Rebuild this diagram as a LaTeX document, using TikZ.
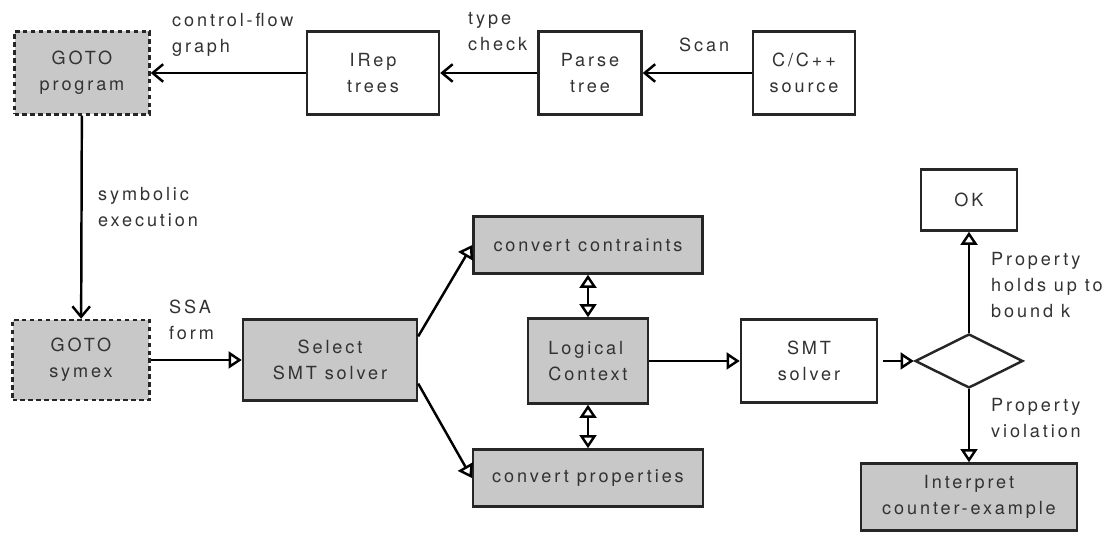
\documentclass[tikz,border=0pt]{standalone}
\usepackage{fontspec}
\usetikzlibrary{arrows.meta,shapes.geometric}
\newfontfamily\flowfont[LetterSpace=16]{TeX Gyre Heros}
\definecolor{boxgray}{RGB}{200,200,200}
\definecolor{inkgray}{RGB}{50,50,50}

\begin{document}
\begin{tikzpicture}[x=0.02cm, y=-0.02cm,
	font=\flowfont\fontsize{10.3}{14.7}\selectfont, text=inkgray,
	line width=1.4pt,
	block/.style={draw=black!85, align=center, inner sep=0pt},
	shaded/.style={block, fill=boxgray},
	virtual/.style={shaded, dash pattern=on 2.6pt off 1.9pt},
	lbl/.style={align=left, anchor=west, inner sep=0pt},
	flow/.style={-{Straight Barb[length=6pt,width=10pt]}},
	hollow/.style={-{Triangle[open,length=7.5pt,width=9.6pt]}},
	both/.style={{Triangle[open,length=7.5pt,width=9.6pt]}-{Triangle[open,length=7.5pt,width=9.6pt]}}]
\useasboundingbox (0,0) rectangle (1117,546);

% front end
	\node[virtual, minimum width=2.7cm, minimum height=1.66cm] (prog) at (82,73) {GOTO\\program};
	\node[block, minimum width=2.64cm, minimum height=1.66cm] (irep) at (373,73) {IRep\\trees};
	\node[block, minimum width=2.06cm, minimum height=1.66cm] (parse) at (590,73) {Parse\\tree};
	\node[block, minimum width=2.04cm, minimum height=1.66cm] (src) at (804,73) {C/C++\\source};

% back end
	\node[virtual, minimum width=2.74cm, minimum height=1.6cm] (symex) at (81,360) {GOTO\\symex};
	\node[shaded, minimum width=3.48cm, minimum height=1.62cm] (select) at (330,360) {Select\\SMT solver};
	\node[shaded, minimum width=4.58cm, minimum height=1.14cm] (cons) at (588,245) {convert contraints};
	\node[shaded, align=left, minimum width=2.4cm, minimum height=1.7cm] (ctx) at (588,361) {Logical\\Context};
	\node[shaded, minimum width=4.6cm, minimum height=1.14cm] (props) at (588,478) {convert properties};
	\node[block, minimum width=2.72cm, minimum height=1.66cm] (smt) at (809,361) {SMT\\solver};
	\node[draw=black!85, diamond, aspect=2, minimum width=2.16cm, minimum height=1.08cm, inner sep=0pt] (check) at (969,361) {};
	\node[block, minimum width=1.92cm, minimum height=1.22cm] (ok) at (969,200) {OK};
	\node[shaded, minimum width=4.32cm, minimum height=1.34cm] (cex) at (969,497) {Interpret\\counter-example};

% edge labels
	\node[lbl] (cfg) at (171,35) {control-flow\\graph};
	\node[lbl] (tc) at (467,32) {type\\check};
	\node[lbl] (scan) at (678,45) {Scan};
	\node[lbl] (symb) at (97,207) {symbolic\\execution};
	\node[lbl] (ssa) at (168,320) {SSA\\form};
	\node[lbl] (holds) at (990,285) {Property\\holds up to\\bound k};
	\node[lbl] (viol) at (990,418) {Property\\violation};

	\draw[flow] (src) -- (parse);
	\draw[flow] (parse) -- (irep);
	\draw[flow] (irep) -- (prog);
	\draw[flow] (prog) -- (symex);

	\draw[hollow] (symex) -- (select);
	\draw[hollow] (select.15) -- (cons.west);
	\draw[hollow] (select.-15) -- (props.west);
	\draw[both] (cons) -- (ctx);
	\draw[both] (ctx) -- (props);
	\draw[hollow] (ctx) -- (smt);
	\draw[hollow, shorten <=0.1cm] (smt) -- (check);
	\draw[hollow] (check) -- (ok);
	\draw[hollow] (check) -- (cex);
\end{tikzpicture}
\end{document}
